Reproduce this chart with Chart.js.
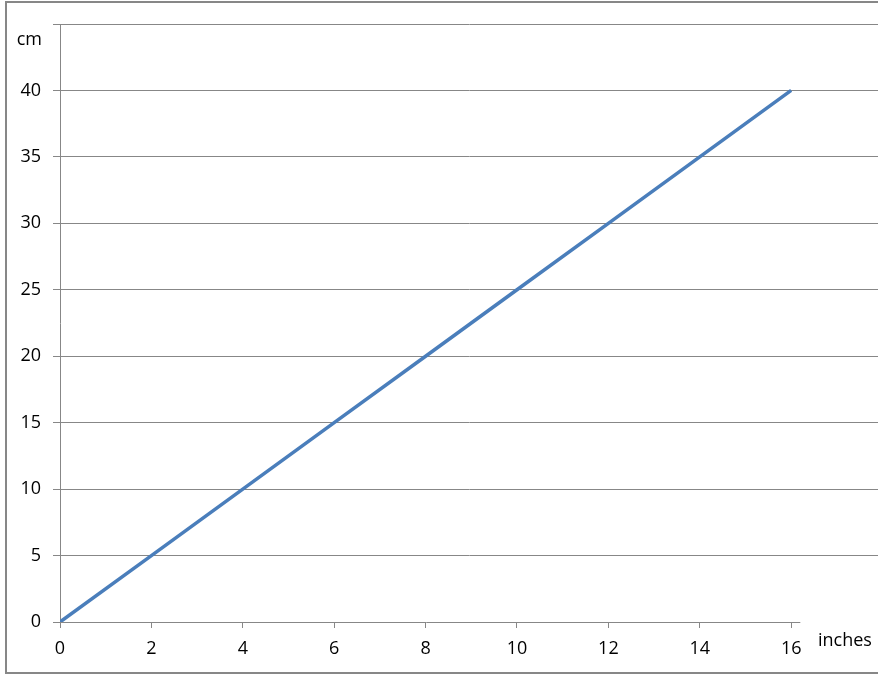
<!DOCTYPE html>
<html>
<head>
<meta charset="utf-8">
<script src="https://cdn.jsdelivr.net/npm/chart.js@4"></script>
<style>
    html, body { margin: 0; padding: 0; background: #fff; overflow: hidden; }
    #wrap { position: relative; width: 878px; height: 676px; }
    #frame { position: absolute; left: 5px; top: 1px; width: 1000px; height: 669px;
             border: 2px solid #878787; pointer-events: none; }
</style>
</head>
<body>
<div id="wrap">
    <canvas id="lengthChart" width="878" height="676"></canvas>
    <div id="frame"></div>
</div>
<script>
const inches = [0, 2, 4, 6, 8, 10, 12, 14, 16];
const cm = [0, 5, 10, 15, 20, 25, 30, 35, 40];
const yAxisTitle = 'cm';
const xAxisTitle = 'inches';

const gridColor = '#878787';
const font = { family: 'Open Sans', size: 18 };

// axis line on the bottom ends just past 16 like the original, and the titles sit beside the ticks
const axisLabels = {
    id: 'axisLabels',
    afterDraw(chart) {
        const ctx = chart.ctx;
        const x = chart.scales.x;
        const y = chart.scales.y;
        const y0 = Math.round(y.getPixelForValue(0)) + 0.5;
        ctx.save();
        ctx.strokeStyle = gridColor;
        ctx.lineWidth = 1;
        ctx.beginPath();
        ctx.moveTo(x.getPixelForValue(0) - 7, y0);
        ctx.lineTo(x.getPixelForValue(16.2), y0);
        ctx.stroke();

        ctx.fillStyle = '#000';
        ctx.font = font.size + 'px ' + font.family;
        ctx.textBaseline = 'middle';
        ctx.textAlign = 'right';
        ctx.fillText(yAxisTitle, 42, 40);
        ctx.textAlign = 'left';
        ctx.fillText(xAxisTitle, 818, 641);
        ctx.restore();
    }
};

new Chart(document.getElementById('lengthChart'), {
    type: 'line',
    data: {
        labels: inches,
        datasets: [{
            data: inches.map((v, i) => ({ x: v, y: cm[i] })),
            borderColor: '#4A7EBB',
            borderWidth: 3.5,
            pointRadius: 0,
            tension: 0,
            fill: false
        }]
    },
    options: {
        responsive: false,
        animation: false,
        layout: { padding: { top: 24, left: 0, right: 0, bottom: 0 } },
        plugins: {
            legend: { display: false },
            tooltip: { enabled: false }
        },
        scales: {
            x: {
                type: 'linear',
                min: 0,
                max: 17.9,
                afterFit: scale => { scale.height = 54; },
                border: { display: false },
                grid: {
                    drawOnChartArea: false,
                    drawTicks: true,
                    tickLength: 6,
                    color: gridColor
                },
                ticks: {
                    stepSize: 2,
                    includeBounds: false,
                    maxRotation: 0,
                    padding: 10,
                    color: '#000',
                    font: font
                }
            },
            y: {
                min: 0,
                max: 45,
                afterFit: scale => { scale.width = 60; },
                border: { display: true, color: gridColor, width: 1 },
                grid: {
                    color: ctx => (ctx.tick && ctx.tick.value === 0) ? 'rgba(0,0,0,0)' : gridColor,
                    tickLength: 7
                },
                ticks: {
                    stepSize: 5,
                    padding: 12,
                    color: '#000',
                    font: font,
                    callback: v => (v === 45 ? '' : v)
                }
            }
        }
    },
    plugins: [axisLabels]
});
</script>
</body>
</html>
